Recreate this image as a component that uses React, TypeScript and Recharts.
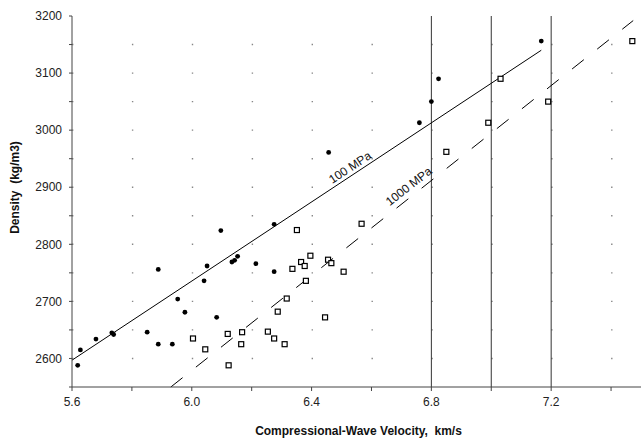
import React from 'react';
import { ScatterChart, Scatter, XAxis, YAxis, CartesianGrid, ReferenceLine, ReferenceDot } from 'recharts';

// filled dots: 100 MPa measurements
const pts100 = [
  { x: 5.619, y: 2588 }, { x: 5.628, y: 2615 }, { x: 5.68, y: 2634 }, { x: 5.733, y: 2645 },
  { x: 5.739, y: 2642 }, { x: 5.851, y: 2646 }, { x: 5.888, y: 2625 }, { x: 5.935, y: 2625 },
  { x: 5.888, y: 2756 }, { x: 5.953, y: 2704 }, { x: 5.977, y: 2681 }, { x: 6.041, y: 2736 },
  { x: 6.051, y: 2762 }, { x: 6.083, y: 2672 }, { x: 6.097, y: 2824 }, { x: 6.134, y: 2769 },
  { x: 6.143, y: 2772 }, { x: 6.153, y: 2779 }, { x: 6.214, y: 2766 }, { x: 6.275, y: 2835 },
  { x: 6.275, y: 2752 }, { x: 6.457, y: 2961 }, { x: 6.76, y: 3013 }, { x: 6.8, y: 3050 },
  { x: 6.824, y: 3090 }, { x: 7.167, y: 3156 },
];

// open squares: 1000 MPa measurements
const pts1000 = [
  { x: 6.004, y: 2635 }, { x: 6.045, y: 2616 }, { x: 6.12, y: 2643 }, { x: 6.168, y: 2646 },
  { x: 6.165, y: 2625 }, { x: 6.123, y: 2588 }, { x: 6.254, y: 2647 }, { x: 6.275, y: 2635 },
  { x: 6.31, y: 2625 }, { x: 6.287, y: 2682 }, { x: 6.317, y: 2705 }, { x: 6.351, y: 2825 },
  { x: 6.336, y: 2757 }, { x: 6.365, y: 2769 }, { x: 6.377, y: 2762 }, { x: 6.396, y: 2780 },
  { x: 6.381, y: 2736 }, { x: 6.455, y: 2773 }, { x: 6.466, y: 2767 }, { x: 6.507, y: 2752 },
  { x: 6.445, y: 2672 }, { x: 6.567, y: 2836 }, { x: 6.85, y: 2962 }, { x: 6.99, y: 3013 },
  { x: 7.031, y: 3090 }, { x: 7.19, y: 3050 }, { x: 7.471, y: 3156 },
];

// regression lines (end points)
const fit100 = [{ x: 5.6, y: 2597 }, { x: 7.167, y: 3140 }];
const fit1000 = [{ x: 5.93, y: 2550 }, { x: 7.474, y: 3192 }];

const lineLabels = [
  { x: 6.528, y: 2935, text: '100 MPa', angle: -33.5 },
  { x: 6.724, y: 2902, text: '1000 MPa', angle: -38 },
];

const vLines = [6.8, 7.0, 7.2];
const xTicks = [5.6, 5.8, 6.0, 6.2, 6.4, 6.6, 6.8, 7.0, 7.2, 7.4];
const xLabelled = [5.6, 6.0, 6.4, 6.8, 7.2];
const yTicks = [2550, 2600, 2650, 2700, 2750, 2800, 2850, 2900, 2950, 3000, 3050, 3100, 3150, 3200];
const gridY = [2600, 2650, 2700, 2750, 2800, 2850, 2900, 2950, 3000, 3050, 3100, 3150];

const font = '"Liberation Sans", Arial, sans-serif';

const Square = (props: any) => {
  const { cx, cy } = props;
  return <rect x={cx - 2.5} y={cy - 2.5} width={5} height={5} fill="#fff" stroke="#000" strokeWidth={1.2} />;
};

const Dot = (props: any) => <circle cx={props.cx} cy={props.cy} r={2.4} fill="#000" />;

const YTitle = (props: any) => {
  const { viewBox } = props;
  const x = viewBox.x + 15;
  const y = viewBox.y + viewBox.height / 2 - 14;
  return (
    <text x={x} y={y} transform={`rotate(-90, ${x}, ${y})`} textAnchor="middle" dominantBaseline="central"
      fontFamily={font} fontSize={12} fontWeight="bold" fill="#111">
      {'Density\u00a0 (kg/m3)'}
    </text>
  );
};

const App: React.FC = () => {
  return (
    <div style={{ position: 'absolute', left: 0, top: 0, background: '#fff' }}>
      <ScatterChart width={641} height={441} margin={{ top: 16, right: 0, bottom: 0, left: 0 }}>
        <CartesianGrid horizontal vertical={false} horizontalValues={gridY} stroke="#888" strokeWidth={1.4} strokeDasharray="1.4 58.5" />
        <XAxis
          type="number"
          dataKey="x"
          domain={[5.6, 7.5]}
          ticks={xTicks}
          allowDataOverflow
          height={54}
          tickSize={4}
          tickMargin={6}
          stroke="#444"
          tick={{ fill: '#222', fontSize: 12, fontFamily: font }}
          tickFormatter={(v: number) => (xLabelled.some((t) => Math.abs(t - v) < 1e-6) ? v.toFixed(1) : '')}
          label={{ value: 'Compressional-Wave Velocity,\u00a0 km/s', position: 'insideBottom', offset: 6, dx: 2, fill: '#111', fontSize: 12, fontWeight: 'bold', fontFamily: font }}
        />
        <YAxis
          type="number"
          dataKey="y"
          domain={[2550, 3200]}
          ticks={yTicks}
          allowDataOverflow
          width={72}
          tickSize={3}
          tickMargin={7}
          stroke="#444"
          tick={{ fill: '#222', fontSize: 12, fontFamily: font }}
          tickFormatter={(v: number) => (v % 100 === 0 ? String(v) : '')}
          label={<YTitle />}
        />
        {vLines.map((v) => (
          <ReferenceLine key={v} x={v} stroke="#333" strokeWidth={1} />
        ))}
        <ReferenceLine segment={fit100} stroke="#000" strokeWidth={1} />
        <ReferenceLine segment={fit1000} stroke="#000" strokeWidth={1} strokeDasharray="15 17" />
        {lineLabels.map((l) => (
          <ReferenceDot key={l.text} x={l.x} y={l.y} r={0} fill="none" stroke="none"
            label={{ value: l.text, angle: l.angle, position: 'center', fill: '#111', fontSize: 12, fontFamily: font }} />
        ))}
        <Scatter data={pts100} shape={<Dot />} isAnimationActive={false} />
        <Scatter data={pts1000} shape={<Square />} isAnimationActive={false} />
      </ScatterChart>
    </div>
  );
};

export default App;
